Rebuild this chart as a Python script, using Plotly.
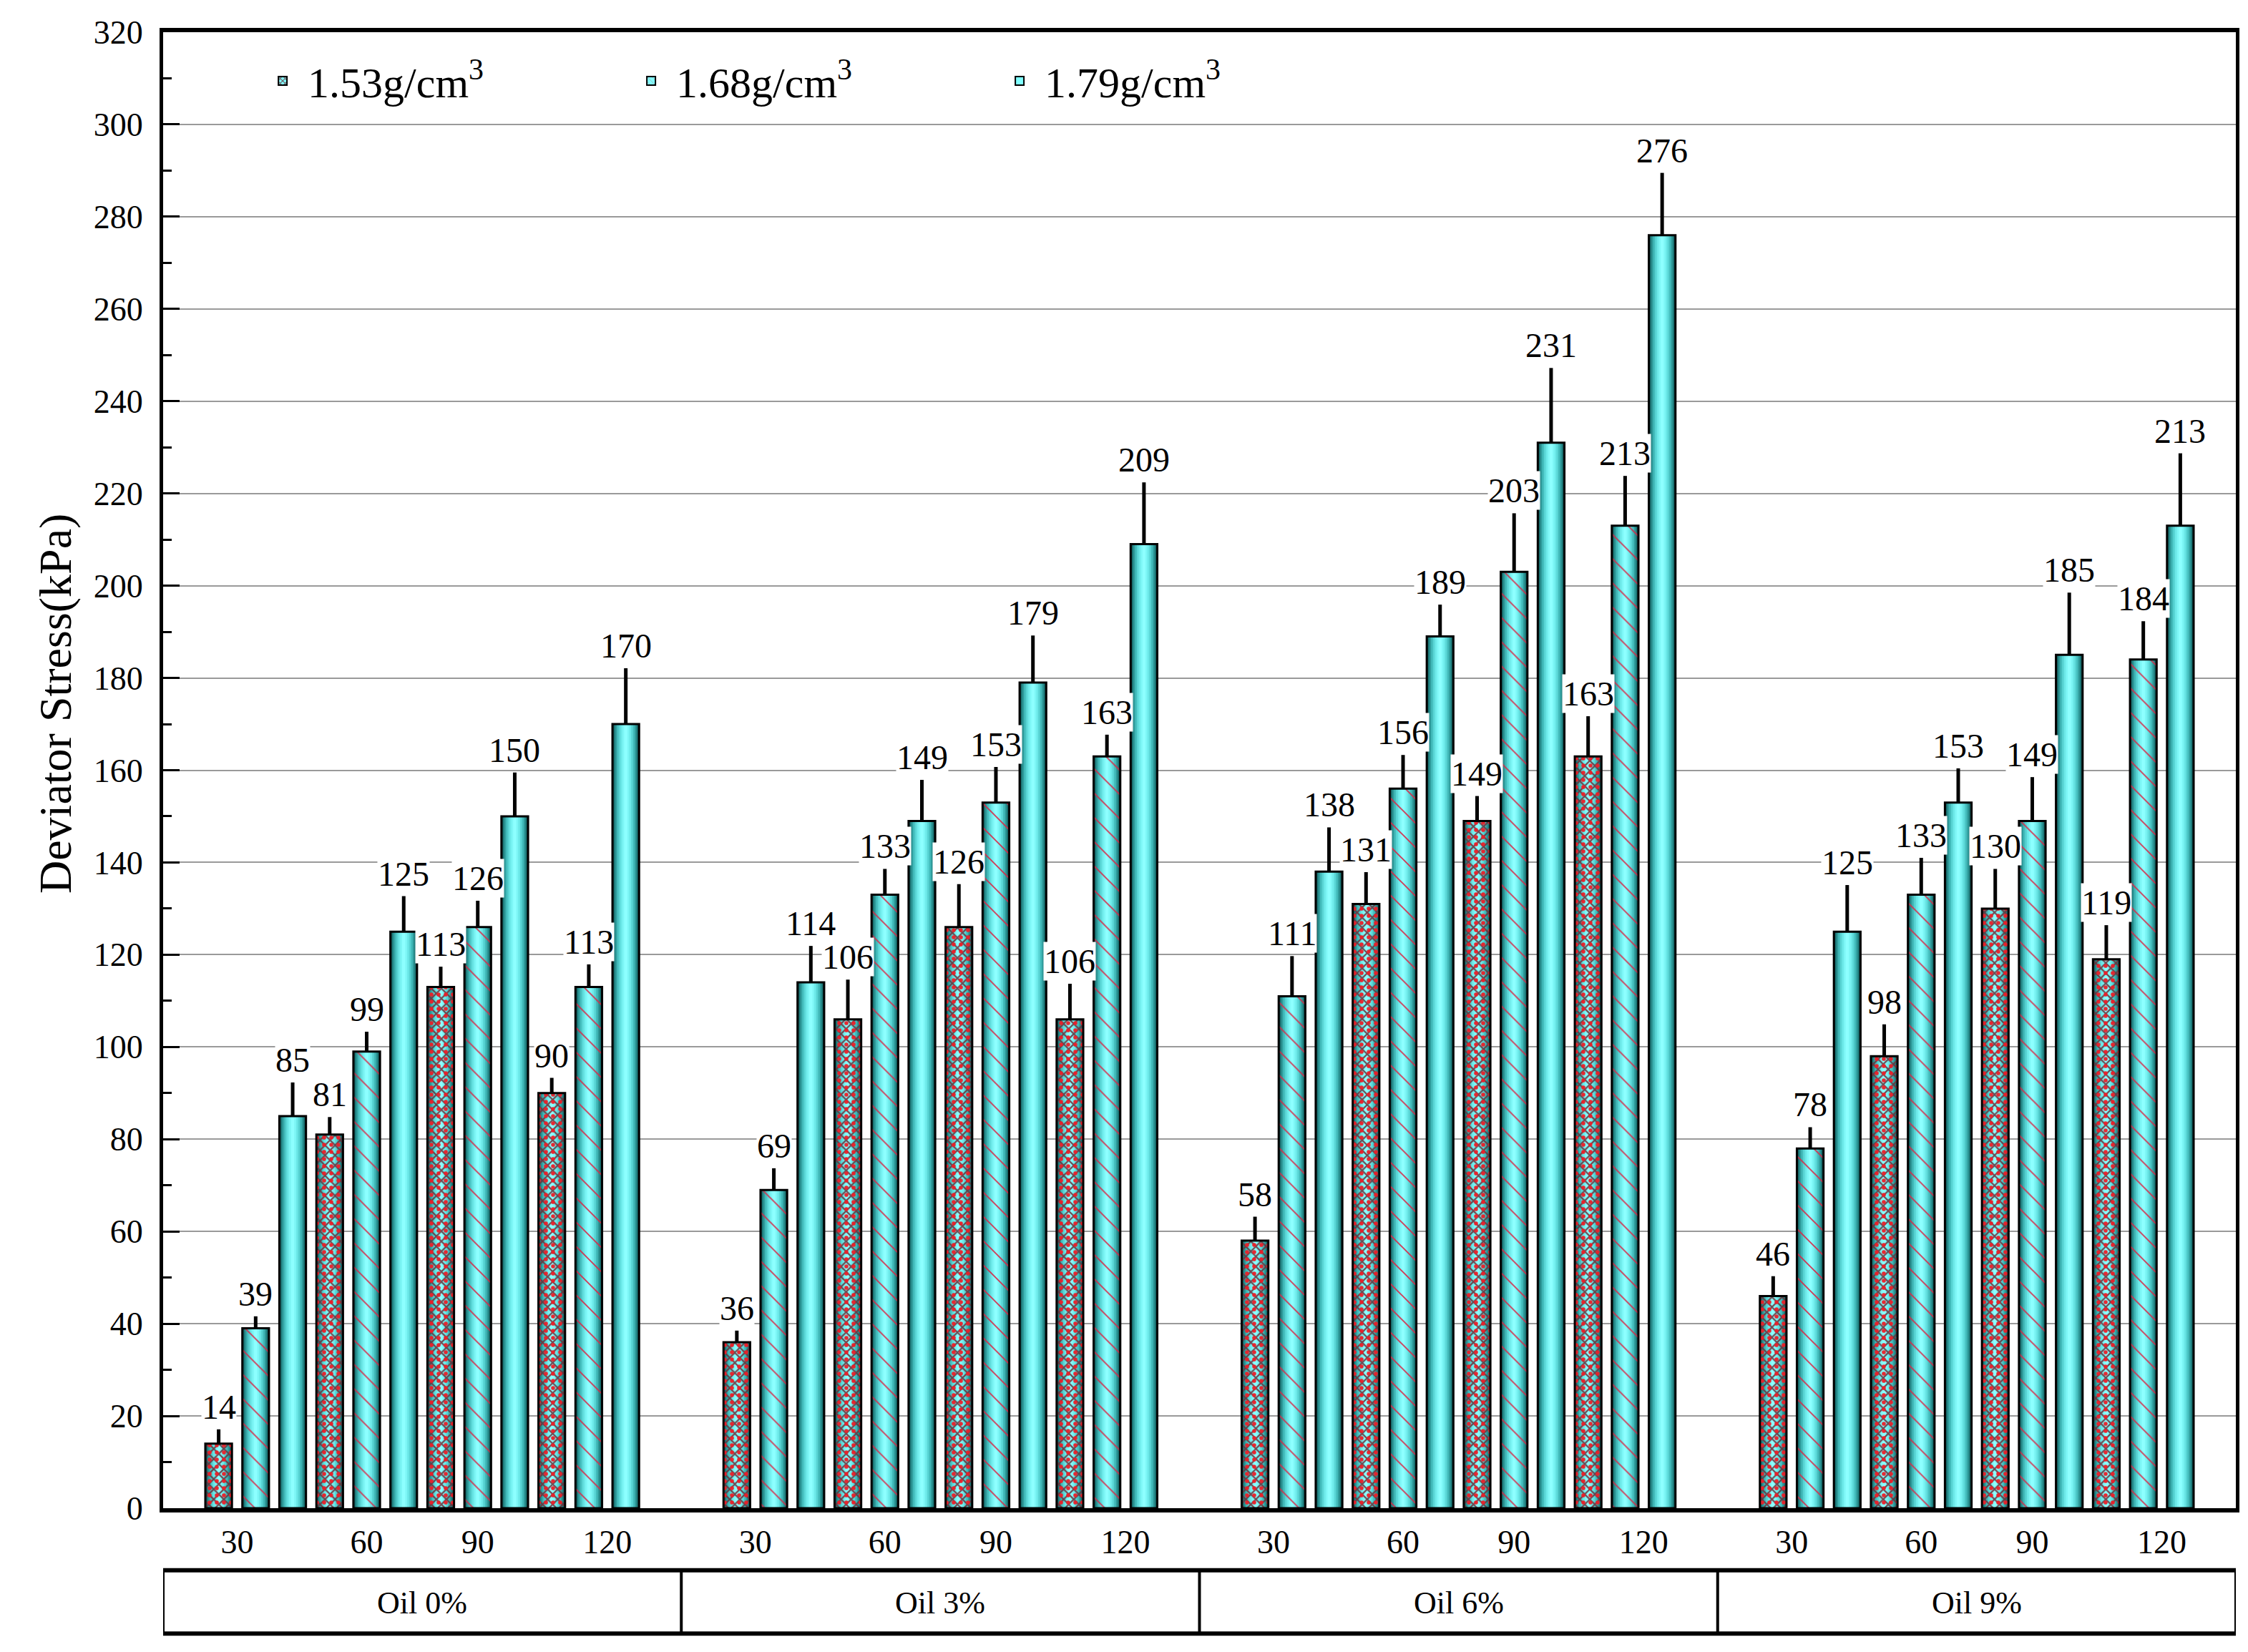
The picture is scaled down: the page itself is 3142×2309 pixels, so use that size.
import plotly.graph_objects as go

# ---------------- data ----------------
densities = ["1.53g/cm<sup>3</sup>", "1.68g/cm<sup>3</sup>", "1.79g/cm<sup>3</sup>"]
oil_groups = ["Oil 0%", "Oil 3%", "Oil 6%", "Oil 9%"]
pressures = ["30", "60", "90", "120"]
y_title = "Deviator Stress(kPa)"

vals_153 = [14, 81, 113, 90, 36, 106, 126, 106, 58, 131, 149, 163, 46, 98, 130, 119]
vals_168 = [39, 99, 126, 113, 69, 133, 153, 163, 111, 156, 203, 213, 78, 133, 149, 184]
vals_179 = [85, 125, 150, 170, 114, 149, 179, 209, 138, 189, 231, 276, 125, 153, 185, 213]

err_153 = [3.1, 3.8, 4.4, 3.3, 2.5, 8.6, 9.3, 7.7, 5.2, 6.9, 5.4, 8.7, 4.3, 6.9, 8.6, 7.4]
err_168 = [2.6, 4.3, 5.7, 4.9, 4.7, 5.6, 7.7, 4.7, 8.7, 7.3, 12.7, 10.8, 4.6, 8.0, 9.5, 8.3]
err_179 = [7.3, 7.7, 9.5, 12.1, 7.9, 8.9, 10.2, 13.4, 9.6, 6.9, 16.2, 13.5, 10.1, 7.4, 13.5, 15.7]

series_vals = [vals_153, vals_168, vals_179]
series_err = [err_153, err_168, err_179]

# ---------------- layout helpers ----------------
FONT = "Liberation Serif"
SLOTS_PER_GROUP = 14
BAR_W = 0.72
n_groups = len(oil_groups)
n_press = len(pressures)
tick_offsets = [2.0, 5.5, 8.5, 12.0]

def xpos(series_idx):
    out = []
    for k in range(n_groups * n_press):
        g, p = divmod(k, n_press)
        out.append(g * SLOTS_PER_GROUP + 1 + p * 3 + series_idx + 0.5)
    return out

# cylinder shading layers (fraction of bar width, colour)
shade_layers = [
    (1.00, "#0E5050"),
    (0.90, "#1D7676"),
    (0.80, "#2E9999"),
    (0.68, "#42BABA"),
    (0.54, "#58D4D4"),
    (0.40, "#6CE8E8"),
    (0.26, "#7DF6F6"),
    (0.12, "#8DFFFF"),
]

# pattern layers per series (drawn over the shading, transparent background)
pattern_layers = [
    [dict(shape="x", fgcolor="rgba(105,45,55,0.85)", size=10, solidity=0.4),
     dict(shape=".", fgcolor="rgba(235,30,40,0.95)", size=10, solidity=0.25)],
    [dict(shape="\\", fgcolor="rgba(215,40,70,0.9)", size=24, solidity=0.08)],
    [],
]

fig = go.Figure()

for s in range(3):
    xs = xpos(s)
    ys = series_vals[s]
    for frac, col in shade_layers:
        fig.add_trace(go.Bar(
            x=xs, y=ys, width=BAR_W * frac,
            marker=dict(color=col, line=dict(width=0)),
            showlegend=False, hoverinfo="skip",
        ))
    for pat in pattern_layers[s]:
        fig.add_trace(go.Bar(
            x=xs, y=ys, width=BAR_W,
            marker=dict(color="rgba(0,0,0,0)", line=dict(width=0),
                        pattern=dict(fillmode="replace", bgcolor="rgba(0,0,0,0)", **pat)),
            showlegend=False, hoverinfo="skip",
        ))
    fig.add_trace(go.Bar(
        x=xs, y=ys, width=BAR_W,
        marker=dict(color="rgba(0,0,0,0)", line=dict(color="black", width=3)),
        error_y=dict(type="data", symmetric=False, array=series_err[s],
                     arrayminus=[0] * len(ys), width=0, thickness=5, color="black"),
        showlegend=False, hoverinfo="skip",
    ))

# legend entries
legend_bg = "#80FFFF"
for s in range(3):
    marker = dict(color=legend_bg, line=dict(color="black", width=2))
    if pattern_layers[s]:
        p = dict(pattern_layers[s][0])
        p["size"] = 6
        marker["pattern"] = dict(fillmode="replace", bgcolor=legend_bg, **p)
    fig.add_trace(go.Bar(x=[None], y=[None], name=densities[s], marker=marker, showlegend=True))

# data labels
annotations = []
for s in range(3):
    xs = xpos(s)
    for x, v, e in zip(xs, series_vals[s], series_err[s]):
        annotations.append(dict(
            x=x, y=v + e, xref="x", yref="y", text=str(v), showarrow=False,
            yanchor="bottom", xanchor="center", yshift=4,
            bgcolor="white", borderpad=0,
            font=dict(family=FONT, size=48, color="black"),
        ))

# y axis title (placed slightly above the axis centre as in the original)
annotations.append(dict(
    x=-0.052, y=0.545, xref="paper", yref="paper", text=y_title, showarrow=False,
    textangle=-90, xanchor="center", yanchor="middle",
    font=dict(family=FONT, size=64, color="black"),
))

# group box labels
BOX_TOP, BOX_BOT, BOX_MID = -0.0420, -0.0850, -0.0640
for g, name in enumerate(oil_groups):
    annotations.append(dict(
        x=g * SLOTS_PER_GROUP + SLOTS_PER_GROUP / 2, y=BOX_MID, xref="x", yref="paper",
        text=name, showarrow=False, xanchor="center", yanchor="middle",
        font=dict(family=FONT, size=44, color="black"),
    ))

x_max = n_groups * SLOTS_PER_GROUP
shapes = [
    dict(type="line", xref="x", yref="paper", x0=0, x1=x_max, y0=BOX_TOP, y1=BOX_TOP,
         line=dict(color="black", width=6)),
    dict(type="line", xref="x", yref="paper", x0=0, x1=x_max, y0=BOX_BOT, y1=BOX_BOT,
         line=dict(color="black", width=6)),
]
for g in range(n_groups + 1):
    shapes.append(dict(type="line", xref="x", yref="paper",
                       x0=g * SLOTS_PER_GROUP, x1=g * SLOTS_PER_GROUP, y0=BOX_TOP, y1=BOX_BOT,
                       line=dict(color="black", width=4)))

tickvals, ticktext = [], []
for g in range(n_groups):
    for p in range(n_press):
        tickvals.append(g * SLOTS_PER_GROUP + tick_offsets[p])
        ticktext.append(pressures[p])

fig.update_layout(
    width=3142, height=2309,
    margin=dict(l=220, r=25, t=37, b=209),
    paper_bgcolor="white", plot_bgcolor="white",
    barmode="overlay",
    font=dict(family=FONT, color="black"),
    showlegend=True,
    legend=dict(orientation="h", x=0.0456, y=0.967, xanchor="left", yanchor="middle",
                font=dict(family=FONT, size=60, color="black"),
                bgcolor="rgba(0,0,0,0)", entrywidth=440, entrywidthmode="pixels",
                itemwidth=60),
    annotations=annotations,
    shapes=shapes,
    xaxis=dict(range=[0, x_max], tickmode="array", tickvals=tickvals, ticktext=ticktext,
               ticks="", ticklabelstandoff=2,
               tickfont=dict(family=FONT, size=46, color="black"),
               showgrid=False, zeroline=False,
               showline=True, linecolor="black", linewidth=6, mirror=True),
    yaxis=dict(range=[0, 320], dtick=20, tick0=0,
               ticks="inside", ticklen=23, tickwidth=3, tickcolor="black",
               minor=dict(ticks="inside", dtick=10, ticklen=12, tickwidth=3, tickcolor="black",
                          showgrid=False),
               ticklabelstandoff=14,
               tickfont=dict(family=FONT, size=46, color="black"),
               showgrid=True, gridcolor="#9A9A9A", gridwidth=2, zeroline=False,
               showline=True, linecolor="black", linewidth=5, mirror=True),
)

fig.write_html("out.html")
